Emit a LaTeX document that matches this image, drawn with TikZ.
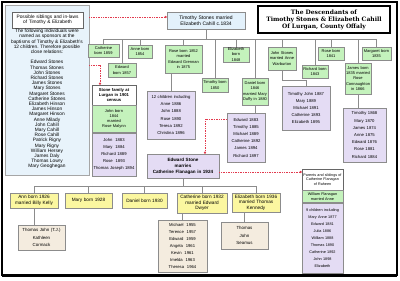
\documentclass[tikz,border=0pt]{standalone}
\usepackage{fontspec}
\setmainfont{Liberation Sans}
\newfontfamily\titleserif{DejaVu Serif}
\usepackage{tikz}
\usetikzlibrary{arrows.meta, positioning}
\definecolor{cSky}{HTML}{E3F1FB}
\definecolor{cPanel}{HTML}{E8F3FB}
\definecolor{cKid}{HTML}{C4F2BC}
\definecolor{cGrand}{HTML}{E4DCF4}
\definecolor{cSun}{HTML}{FBF7A0}
\definecolor{cSand}{HTML}{F4ECDF}
\definecolor{cLine}{HTML}{8C8C8C}
\definecolor{cDot}{HTML}{E23A4E}
\tikzstyle{box}   = [rectangle, draw=black!45, line width=0.5pt, align=center, inner sep=1pt]
\tikzstyle{kid}   = [box, fill=cKid, font=\fontsize{4}{5.2}\selectfont]
\tikzstyle{brood} = [box, fill=cGrand, font=\fontsize{4.2}{7.2}\selectfont]
\tikzstyle{heir}  = [box, fill=cSun, font=\fontsize{4.7}{5.5}\selectfont]
\tikzstyle{issue} = [box, fill=cSand, font=\fontsize{4.4}{7.4}\selectfont]
\tikzstyle{note}  = [box, fill=white, draw=black!60]
\tikzstyle{link}  = [draw=cLine, line width=0.6pt]
\tikzstyle{hint}  = [draw=cDot, line width=0.7pt, dash pattern=on 0.8pt off 0.9pt, -{Circle[length=2.2pt]}]

\begin{document}
\begin{tikzpicture}[x=1pt, y=-1pt]
\useasboundingbox (0,0) rectangle (400,281);
\fill [white] (0,0) rectangle (400,281);

% sponsors panel
\node (panel) [box, draw=black!35, fill=cPanel, minimum width=84pt, minimum height=170pt] at (47,90) {};
\node (sibtitle) [note, text width=69pt, minimum height=16pt, font=\fontsize{4.8}{5.5}\selectfont] at (47.5,20)
  {Possible siblings and in-laws\\of Timothy \& Elizabeth};
\node (sibtext) [align=center, inner sep=0pt, anchor=north, font=\fontsize{4.8}{5.2}\selectfont] at (47,29)
  {The following individuals were\\named as sponsors at the\\baptisms of Timothy \& Elizabeth's\\12 children. Therefore possible\\close relations:\\[5.2pt]
   Edward Stones\\Thomas Stones\\John Stones\\Richard Stones\\James Stones\\Mary Stones\\Margaret Stones\\Catherine Stones\\
   Elizabeth Hinson\\James Hinson\\Margaret Hinson\\Anne Milady\\John Cahill\\Mary Cahill\\Rose Cahill\\Patrick Rigny\\
   Mary Rigny\\William Hersey\\James Daly\\Thomas Lowry\\Mary Geoghegan};

% founding couple and title
\node (couple) [box, fill=cSky, text width=76pt, minimum height=17pt, font=\fontsize{5}{6}\selectfont] at (206,20.5)
  {Timothy Stones married\\Elizabeth Cahill c.1834};
\node (banner) [rectangle, draw=black, line width=1.5pt, fill=white, text width=130pt, minimum height=27pt, align=center, inner sep=1pt,
  font=\titleserif\bfseries\fontsize{6}{7}\selectfont] at (324,19.5)
  {The Descendants of\\Timothy Stones \& Elizabeth Cahill\\Of Lurgan, County Offaly};

% the twelve children
\node (cath)  [kid, text width=29pt, minimum height=13pt] at (103.5,50.5) {Catherine\\born 1859};
\node (edw)   [kid, text width=26pt, minimum height=14pt] at (122,70) {Edward\\born 1857};
\node (anne)  [kid, text width=22pt, minimum height=13pt] at (140,51.5) {Anne born\\1854};
\node (rose)  [kid, text width=35pt, minimum height=28pt] at (183.5,59) {Rose born 1852\\married\\Edward Grennan\\in 1875};
\node (tim)   [kid, text width=24pt, minimum height=14pt] at (215,85) {Timothy born\\1850};
\node (eliz)  [kid, text width=24pt, minimum height=15pt] at (236,54.5) {Elizabeth born\\1848};
\node (dan)   [kid, text width=24pt, minimum height=27pt] at (255,91.5) {Daniel born\\1846\\married Mary\\Duffy in 1880};
\node (john)  [kid, text width=26pt, minimum height=23pt] at (282,58.5) {John Stones\\married Anne\\Warburton};
\node (rich)  [kid, text width=24pt, minimum height=13pt] at (315,71.5) {Richard born\\1843};
\node (rose2) [kid, text width=24pt, minimum height=13pt] at (331,53.5) {Rose born\\1841};
\node (jam)   [kid, text width=24pt, minimum height=31pt] at (358,78.5) {James born\\1835 married\\Rose\\Connaughton\\in 1866};
\node (marg)  [kid, text width=27pt, minimum height=13pt] at (376.5,53.5) {Margaret born\\1835};

% grandchildren
\node (grennan)  [brood, text width=46pt, minimum height=48pt] at (171,115) {12 children including\\Anne 1886\\John 1888\\Rose 1890\\Teresa 1892\\Christina 1896};
\node (danlist)  [brood, text width=36pt, minimum height=49pt] at (246,137.5) {Edward 1883\\Timothy 1885\\Michael 1889\\Catherine 1892\\James 1894\\Richard 1897};
\node (johnlist) [brood, text width=46pt, minimum height=44pt] at (306,108) {Timothy John 1887\\Mary 1889\\Michael 1891\\Catherine 1893\\Elizabeth 1895};
\node (jamlist)  [brood, text width=41pt, minimum height=54pt] at (364.5,135) {Timothy 1868\\Mary 1870\\James 1874\\Anne 1875\\Edward 1876\\Rose 1881\\Richard 1884};

% Stone family at Lurgan
\node (stonehead) [note, text width=42pt, minimum height=20pt, font=\bfseries\fontsize{4.2}{5.3}\selectfont] at (114,95) {Stone family at\\Lurgan in 1901\\census};
\node (stonejohn) [kid, text width=42pt, minimum height=27pt, below=0pt of stonehead] {John born\\1844\\married\\Rose Malynn};
\node (stonekids) [brood, text width=42pt, minimum height=43pt, below=0pt of stonejohn] {John\ \ 1883\\Mary\ \ 1884\\Richard 1889\\Rose\ \ 1893\\Thomas Joseph 1894};

% Edward and Catherine
\node (wedding) [box, fill=cGrand, text width=70pt, minimum height=24pt, font=\bfseries\fontsize{4.6}{6}\selectfont] at (183,166) {Edward Stone\\marries\\Catherine Flanagan in 1924};

\node (annk)  [heir, text width=46pt, minimum height=15pt] at (34,200.5) {Ann born 1926\\married Billy Kelly};
\node (maryb) [heir, text width=45pt, minimum height=15pt] at (88.5,200.5) {Mary born 1928};
\node (danb)  [heir, text width=43pt, minimum height=15pt] at (144.5,200.5) {Daniel born 1930};
\node (cathd) [heir, text width=48pt, minimum height=20pt] at (202,203) {Catherine born 1932\\married Edward\\Dwyer};
\node (elizk) [heir, text width=46pt, minimum height=19pt] at (256,202.5) {Elizabeth born 1936\\married Thomas\\Kennedy};

\node (tj)      [issue, text width=45pt, minimum height=25pt, font=\fontsize{4.4}{7.8}\selectfont] at (41.5,237.5) {Thomas John (T.J.)\\Kathleen\\Cormack};
\node (dwyer)   [issue, text width=47pt, minimum height=52pt, font=\fontsize{4.2}{7}\selectfont] at (182.5,246) {Michael\ \ 1955\\Terence\ \ 1957\\Edward\ \ 1959\\Angela\ \ 1961\\Kevin\ \ 1961\\Imelda\ \ 1963\\Theresa\ \ 1964};
\node (kennedy) [issue, text width=45pt, minimum height=27pt, font=\fontsize{4.4}{7.8}\selectfont] at (244.5,235.5) {Thomas\\John\\Seamus};

% Flanagan family of Raheen
\node (parhead)  [note, text width=39pt, minimum height=21pt, font=\fontsize{3.7}{4.8}\selectfont] at (322.5,179.5) {Parents and siblings of\\Catherine Flanagan\\of Raheen};
\node (wflan)    [kid, text width=39pt, minimum height=12pt, font=\fontsize{3.8}{4.8}\selectfont, below=0pt of parhead] {William Flanagan\\married Anne};
\node (flankids) [brood, text width=39pt, minimum height=70pt, font=\fontsize{3.8}{7}\selectfont, below=0pt of wflan] {9 children including\\Mary Anne 1877\\Edward 1881\\Julia 1886\\William 1888\\Thomas 1890\\Catherine 1892\\John 1898\\Elizabeth};

% family lines
\coordinate (sibbar) at (0,39);
\draw [link] (couple.south) -- (couple.south |- sibbar);
\draw [link] (cath.north |- sibbar) -- (marg.north |- sibbar);
\draw [link] (cath.north) -- (cath.north |- sibbar);
\draw [link] (edw.north) -- (edw.north |- sibbar);
\draw [link] (anne.north) -- (anne.north |- sibbar);
\draw [link] (rose.north) -- (rose.north |- sibbar);
\draw [link] (tim.north) -- (tim.north |- sibbar);
\draw [link] (eliz.north) -- (eliz.north |- sibbar);
\draw [link] (dan.north) -- (dan.north |- sibbar);
\draw [link] (john.north) -- (john.north |- sibbar);
\draw [link] (rich.north) -- (rich.north |- sibbar);
\draw [link] (rose2.north) -- (rose2.north |- sibbar);
\draw [link] (jam.north) -- (jam.north |- sibbar);
\draw [link] (marg.north) -- (marg.north |- sibbar);

\draw [link] (grennan.north) -- (grennan.north |- rose.south);
\draw [link] (dan.south) -- (dan.south |- danlist.north);
\draw [link] (john.south) -- ++(0,10) -| (johnlist.north);
\draw [link] (jam.south) -- (jam.south |- jamlist.north);

\coordinate (kidbar) at (0,186);
\draw [link] (wedding.south) -- (wedding.south |- kidbar);
\draw [link] (annk.north |- kidbar) -- (elizk.north |- kidbar);
\draw [link] (annk.north) -- (annk.north |- kidbar);
\draw [link] (maryb.north) -- (maryb.north |- kidbar);
\draw [link] (danb.north) -- (danb.north |- kidbar);
\draw [link] (cathd.north) -- (cathd.north |- kidbar);
\draw [link] (elizk.north) -- (elizk.north |- kidbar);
\draw [link] (annk.south) -- (annk.south |- tj.north);
\draw [link] (dwyer.north) -- (dwyer.north |- cathd.south);
\draw [link] (kennedy.north) -- (kennedy.north |- elizk.south);

% possible links
\coordinate (sibtap) at (0,17);
\coordinate (lurgantap) at (100,65);
\coordinate (edtap) at (205,119);
\coordinate (cftap) at (0,172);
\draw [hint] (panel.east |- sibtap) -- (couple.west |- sibtap);
\draw [hint] (panel.east |- lurgantap) -- (lurgantap) -- (lurgantap |- stonehead.north);
\draw [hint] (danlist.west |- edtap) -- (edtap) -- (edtap |- wedding.north);
\draw [hint] (wedding.east |- cftap) -- (parhead.west |- cftap);

% frame
\draw [line width=1.2pt] (2,2) rectangle (397,275);
\draw [line width=2.6pt] (2,275.5) -- (397,275.5);
\end{tikzpicture}
\end{document}
